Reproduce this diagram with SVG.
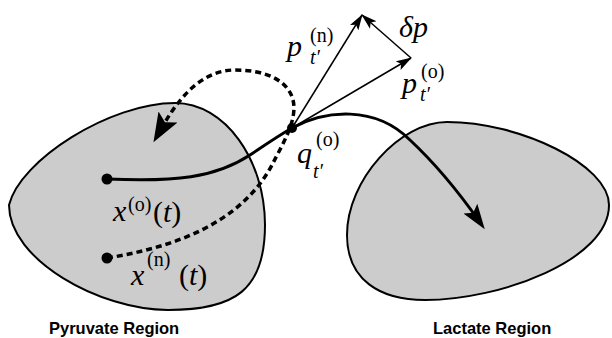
<svg xmlns="http://www.w3.org/2000/svg" width="612" height="338" viewBox="0 0 612 338">
  <style>
    .region { fill: #cccccc; stroke: #000; stroke-width: 2; }
    .rlabel { font-family: "Liberation Sans", Arial, sans-serif; font-weight: bold; font-size: 16.5px; fill: #000; }
    .traj { fill: none; stroke: #000; stroke-width: 3; }
    .dashed { fill: none; stroke: #000; stroke-width: 3.5; stroke-dasharray: 6 4; }
    .vec { fill: none; stroke: #000; stroke-width: 1.5; }
    .m { font-family: "Liberation Serif", "DejaVu Serif", "Times New Roman", serif; font-size: 30px; fill: #000; }
    .s { font-size: 20px; }
    .i { font-style: italic; }
  </style>
  <defs>
    <marker id="bigArrow" markerUnits="userSpaceOnUse" markerWidth="26" markerHeight="20" refX="15" refY="10" orient="auto">
      <path d="M0,1.5 L25,10 L0,18.5 L5,10 Z" fill="#000"/>
    </marker>
    <marker id="dashArrow" markerUnits="userSpaceOnUse" markerWidth="30" markerHeight="24" refX="8" refY="12" orient="auto">
      <path d="M0,1 L29,12 L0,23 L6,12 Z" fill="#000"/>
    </marker>
    <marker id="smallArrow" markerUnits="userSpaceOnUse" markerWidth="16" markerHeight="11" refX="15" refY="5.5" orient="auto">
      <path d="M0,0.5 L16,5.5 L0,10.5 L3.5,5.5 Z" fill="#000"/>
    </marker>
  </defs>

  <g id="pyruvate-region">
    <path class="region" d="M9,205 C 20,160 110,103 175,103 C 225,103 265,160 265,225 C 265,290 235,310 168,310 C 100,310 9,260 9,205 Z"/>
    <text class="rlabel" x="49" y="334">Pyruvate Region</text>
  </g>

  <g id="lactate-region">
    <path class="region" d="M447,122 C 400,122 347,180 347,235 C 347,280 380,300 425,300 C 500,300 609,260 609,205 C 609,165 520,122 447,122 Z"/>
    <text class="rlabel" x="433" y="334">Lactate Region</text>
  </g>

  <g id="connectors">
    <path id="traj-old" class="traj" marker-end="url(#bigArrow)" d="M107,179 C 175,182 215,178 250,155 C 265,145 278,136 292,128 C 325,110 375,105 410,140 C 440,168 460,194 479,221"/>
    <path id="traj-new" class="dashed" marker-end="url(#dashArrow)" d="M107,258 C 170,248 240,225 272,165 C 282,145 298,120 293,100 C 288,80 265,70 235,70 C 205,70 182,93 164,124"/>
    <line id="vec-pn" class="vec" x1="292" y1="128" x2="362" y2="15" marker-end="url(#smallArrow)"/>
    <line id="vec-po" class="vec" x1="292" y1="128" x2="411" y2="58" marker-end="url(#smallArrow)"/>
    <line id="vec-dp" class="vec" x1="411" y1="58" x2="362" y2="15" marker-end="url(#smallArrow)"/>
    <circle cx="107" cy="179" r="5.5" fill="#000"/>
    <circle cx="107" cy="258" r="5.5" fill="#000"/>
    <circle cx="292" cy="128" r="5" fill="#000"/>
  </g>

  <g id="labels">
    <text class="m"><tspan class="i" x="287" y="56">p</tspan><tspan class="s" x="310" y="42">(n)</tspan><tspan class="s i" x="310" y="64">t′</tspan></text>
    <text class="m"><tspan class="i" x="399" y="37">δp</tspan></text>
    <text class="m"><tspan class="i" x="402" y="93">p</tspan><tspan class="s" x="421" y="78">(o)</tspan><tspan class="s i" x="420" y="101">t′</tspan></text>
    <text class="m"><tspan class="i" x="297" y="163">q</tspan><tspan class="s" x="316" y="146">(o)</tspan><tspan class="s i" x="313" y="178">t′</tspan></text>
    <text class="m"><tspan class="i" x="113" y="221">x</tspan><tspan class="s" x="128" y="211">(o)</tspan><tspan x="153" y="222">(</tspan><tspan class="i">t</tspan><tspan>)</tspan></text>
    <text class="m"><tspan class="i" x="131" y="285">x</tspan><tspan class="s" x="147" y="266">(n)</tspan><tspan x="179" y="285">(</tspan><tspan class="i">t</tspan><tspan>)</tspan></text>
  </g>
</svg>
